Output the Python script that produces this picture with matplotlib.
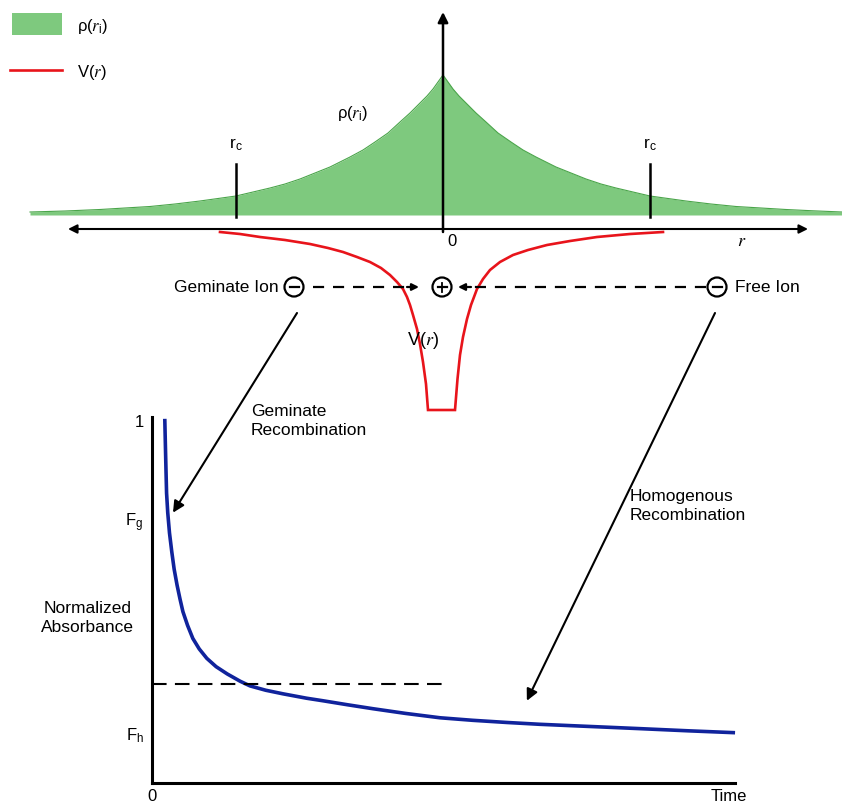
import matplotlib
matplotlib.use('Agg')
import matplotlib.pyplot as plt
from matplotlib.patches import Circle, Rectangle, ConnectionPatch

plt.rcParams['font.family'] = ['Liberation Sans', 'DejaVu Sans']
plt.rcParams['mathtext.fontset'] = 'custom'
plt.rcParams['mathtext.rm'] = 'Liberation Sans'
plt.rcParams['mathtext.it'] = 'STIXGeneral:italic'

# initial ion-pair distribution rho(r_i), arbitrary units
rDist = [-4.13, -3.78, -3.43, -3.18, -2.93, -2.68, -2.43, -2.25, -2.07, -1.90, -1.73, -1.58, -1.43,
         -1.28, -1.13, -1.03, -0.93, -0.80, -0.68, -0.55, -0.43, -0.33, -0.23, -0.16, -0.10, -0.05, 0.0,
         0.05, 0.10, 0.16, 0.23, 0.33, 0.43, 0.55, 0.68, 0.80, 0.93, 1.03, 1.13, 1.28, 1.43, 1.58,
         1.73, 1.90, 2.07, 2.25, 2.43, 2.68, 2.93, 3.18, 3.43, 3.70, 3.99]
rhoDist = [0.03, 0.04, 0.055, 0.07, 0.085, 0.11, 0.14, 0.165, 0.19, 0.23, 0.27, 0.31, 0.36,
           0.42, 0.48, 0.53, 0.58, 0.65, 0.73, 0.82, 0.93, 1.02, 1.12, 1.19, 1.26, 1.33, 1.40,
           1.33, 1.26, 1.19, 1.12, 1.02, 0.93, 0.82, 0.73, 0.65, 0.58, 0.53, 0.48, 0.42, 0.36, 0.31,
           0.27, 0.23, 0.19, 0.165, 0.14, 0.11, 0.085, 0.07, 0.055, 0.042, 0.03]

# coulomb well V(r) around the cation
rPot = [-2.23, -2.03, -1.83, -1.58, -1.33, -1.15, -1.00, -0.86, -0.73, -0.62, -0.53, -0.46, -0.40,
        -0.36, -0.33, -0.30, -0.26, -0.23, -0.20, -0.17, -0.15,
        0.12, 0.145, 0.17, 0.20, 0.24, 0.28, 0.34, 0.40, 0.47, 0.57, 0.70, 0.85, 1.04,
        1.27, 1.54, 1.87, 2.20]
vPot = [-0.03, -0.05, -0.08, -0.11, -0.15, -0.19, -0.23, -0.28, -0.33, -0.39, -0.46, -0.53, -0.60,
        -0.68, -0.76, -0.86, -1.00, -1.15, -1.33, -1.55, -1.81,
        -1.81, -1.50, -1.26, -1.08, -0.90, -0.76, -0.60, -0.50, -0.41, -0.33, -0.26, -0.21, -0.16,
        -0.12, -0.08, -0.05, -0.03]

rCapture = 2.07
rhoBase = 0.14

# normalized absorbance decay vs time
tDecay = [0.022, 0.023, 0.024, 0.025, 0.027, 0.030, 0.034, 0.038, 0.043, 0.048, 0.053, 0.061, 0.070,
          0.081, 0.094, 0.110, 0.129, 0.151, 0.168, 0.195, 0.225, 0.265, 0.293, 0.335, 0.379, 0.435,
          0.494, 0.550, 0.609, 0.665, 0.722, 0.780, 0.837, 0.920, 0.997]
absDecay = [1.0, 0.93, 0.863, 0.80, 0.746, 0.69, 0.637, 0.59, 0.546, 0.508, 0.473, 0.435, 0.399,
            0.370, 0.344, 0.321, 0.301, 0.281, 0.268, 0.256, 0.246, 0.234, 0.227, 0.216, 0.205, 0.192,
            0.180, 0.173, 0.167, 0.162, 0.158, 0.154, 0.150, 0.144, 0.139]

F_G = 0.727
F_H = 0.137
freeLevel = 0.273

GREEN = '#7ec97e'
RED = '#e8141b'
BLUE = '#10239c'

fig = plt.figure(figsize=(8.42, 8.05), dpi=100)

# ---- upper panel: distribution and potential ----
axTop = fig.add_axes([0, 385 / 805, 1, 420 / 805])
axTop.set_xlim(-4.43, 3.99)
axTop.set_ylim(-1.91, 2.29)
axTop.axis('off')

axTop.fill_between(rDist, rhoBase, [rhoBase + v for v in rhoDist], color=GREEN, lw=0)
axTop.plot(rDist, [rhoBase + v for v in rhoDist], color='#4aa54a', lw=0.8)
axTop.plot(rPot, vPot, color=RED, lw=1.9, solid_joinstyle='miter')

axTop.annotate('', xy=(0, 2.17), xytext=(0, -0.03),
               arrowprops=dict(arrowstyle='-|>', lw=1.8, color='k', mutation_scale=15, shrinkA=0, shrinkB=0))
axTop.annotate('', xy=(-3.75, 0), xytext=(3.65, 0),
               arrowprops=dict(arrowstyle='<|-|>', lw=1.5, color='k', mutation_scale=13, shrinkA=0, shrinkB=0))

for rc in (-rCapture, rCapture):
    axTop.plot([rc, rc], [0.12, 0.65], color='k', lw=1.8)
    axTop.text(rc, 0.84, r'r$_\mathrm{c}$', ha='center', va='center', fontsize=12.5)

axTop.text(0.04, -0.12, '0', ha='left', va='center', fontsize=12)
axTop.text(2.99, -0.12, r'$r$', ha='center', va='center', fontsize=13)
axTop.text(-0.90, 1.16, r'ρ$(r_\mathrm{i})$', ha='center', va='center', fontsize=12)
axTop.text(-0.20, -1.11, r'V$(r)$', ha='center', va='center', fontsize=13)

# ions
ionY = -0.58
ionR = 0.095
for xc, sign in ((-1.49, '-'), (-0.01, '+'), (2.74, '-')):
    axTop.add_patch(Circle((xc, ionY), ionR, fill=False, lw=1.6, color='k'))
    axTop.plot([xc - 0.045, xc + 0.045], [ionY, ionY], color='k', lw=1.6)
    if sign == '+':
        axTop.plot([xc, xc], [ionY - 0.045, ionY + 0.045], color='k', lw=1.3)

axTop.text(-1.64, ionY, 'Geminate Ion', ha='right', va='center', fontsize=12.5)
axTop.text(2.92, ionY, 'Free Ion', ha='left', va='center', fontsize=12.5)

axTop.plot([-1.30, -0.33], [ionY, ionY], color='k', lw=1.6, linestyle=(0, (5, 4)))
axTop.annotate('', xy=(-0.24, ionY), xytext=(-0.36, ionY),
               arrowprops=dict(arrowstyle='-|>', lw=1.6, color='k', mutation_scale=10, shrinkA=0, shrinkB=0))
axTop.plot([2.63, 0.25], [ionY, ionY], color='k', lw=1.6, linestyle=(0, (5, 4)))
axTop.annotate('', xy=(0.15, ionY), xytext=(0.28, ionY),
               arrowprops=dict(arrowstyle='-|>', lw=1.6, color='k', mutation_scale=10, shrinkA=0, shrinkB=0))

# legend
axTop.add_patch(Rectangle((-4.31, 1.94), 0.50, 0.22, color=GREEN, lw=0))
axTop.plot([-4.33, -3.81], [1.59, 1.59], color=RED, lw=1.9)
axTop.text(-3.66, 2.03, r'ρ$(r_\mathrm{i})$', ha='left', va='center', fontsize=12)
axTop.text(-3.66, 1.57, r'V$(r)$', ha='left', va='center', fontsize=12)

# ---- lower panel: absorbance decay ----
axBot = fig.add_axes([152 / 842, 22 / 805, 583 / 842, 366 / 805])
axBot.set_xlim(0, 1)
axBot.set_ylim(0, 1.01)
for side in ('top', 'right'):
    axBot.spines[side].set_visible(False)
for side in ('left', 'bottom'):
    axBot.spines[side].set_linewidth(2.2)
axBot.patch.set_alpha(0)

axBot.plot(tDecay, absDecay, color=BLUE, lw=2.6, clip_on=False, solid_joinstyle='round')
axBot.plot([0, 0.497], [freeLevel, freeLevel], color='k', lw=1.5, linestyle=(0, (7, 4)))

axBot.set_yticks([F_H, F_G, 1])
axBot.set_yticklabels([r'F$_\mathrm{h}$', r'F$_\mathrm{g}$', '1'])
axBot.set_xticks([0, 0.99])
axBot.set_xticklabels(['0', 'Time'])
axBot.tick_params(length=0, labelsize=12, pad=6)
axBot.tick_params(axis='x', pad=4)

axBot.text(-0.110, 0.456, 'Normalized\nAbsorbance', ha='center', va='center',
           fontsize=12.5, linespacing=1.3, clip_on=False)
axBot.text(0.170, 1.045, 'Geminate\nRecombination', ha='left', va='top',
           fontsize=12.5, linespacing=1.3, clip_on=False)
axBot.text(0.820, 0.810, 'Homogenous\nRecombination', ha='left', va='top',
           fontsize=12.5, linespacing=1.3)

# recombination pathways linking the ions to the decay curve
for tail, tip in (((-1.46, -0.84), (0.036, 0.746)), ((2.72, -0.84), (0.643, 0.227))):
    con = ConnectionPatch(xyA=tail, coordsA=axTop.transData, xyB=tip, coordsB=axBot.transData,
                          arrowstyle='-|>', lw=1.5, color='k', mutation_scale=17, shrinkA=0, shrinkB=0)
    fig.add_artist(con)

fig.savefig('out.png', dpi=100)
